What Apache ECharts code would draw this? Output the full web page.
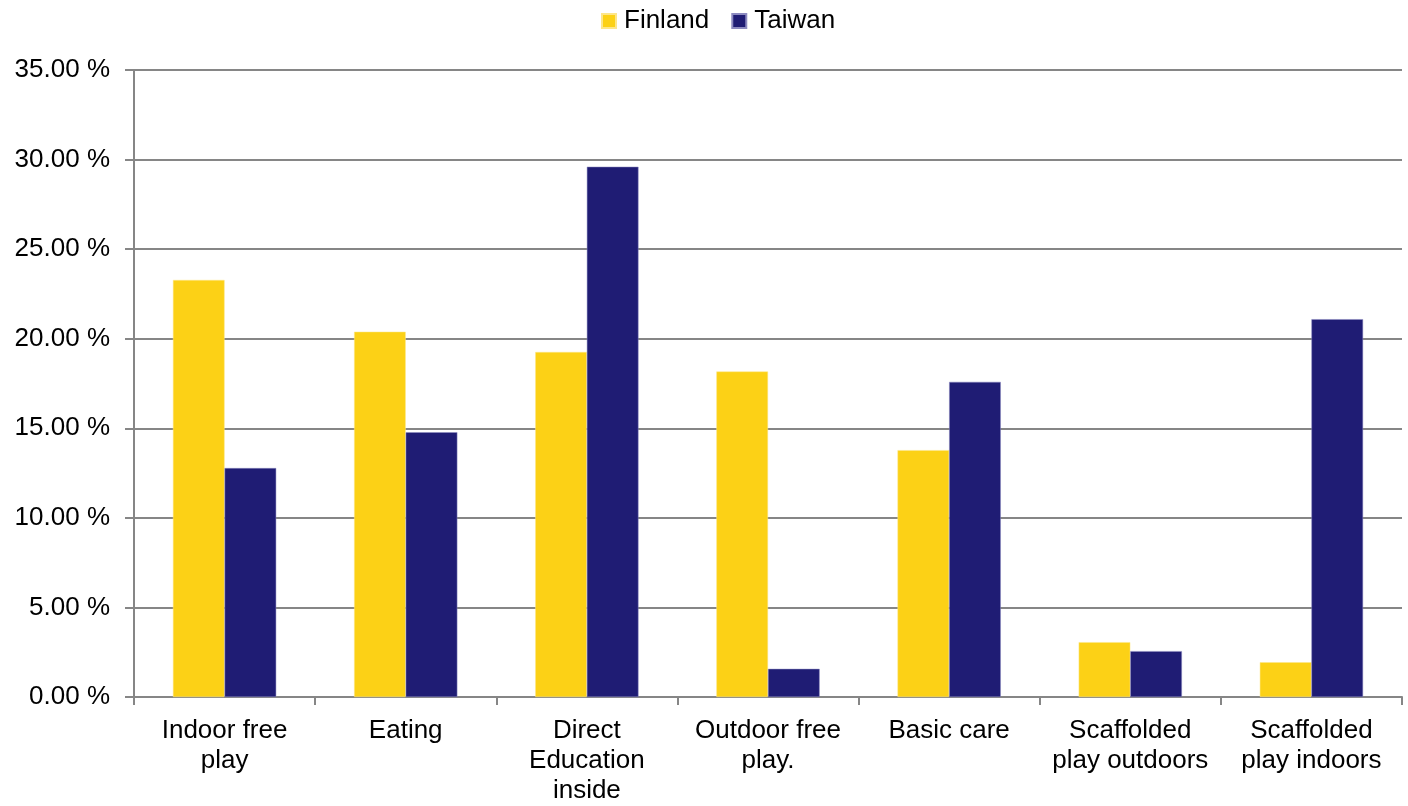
<!DOCTYPE html>
<html>
<head>
<meta charset="utf-8">
<script src="https://cdn.jsdelivr.net/npm/echarts@6/dist/echarts.min.js"></script>
<style>html,body{margin:0;padding:0;background:#fff;overflow:hidden;}#c{width:100vw;height:100vh;}</style>
</head>
<body>
<div id="c"></div>
<script>
const categories = ["Indoor free\nplay", "Eating", "Direct\nEducation\ninside", "Outdoor free\nplay.", "Basic care", "Scaffolded\nplay outdoors", "Scaffolded\nplay indoors"];
const finland = [23.28, 20.39, 19.26, 18.17, 13.78, 3.06, 1.94];
const taiwan = [12.78, 14.78, 29.6, 1.57, 17.59, 2.56, 21.09];
const seriesNames = ["Finland", "Taiwan"];
const yTicks = {min: 0, max: 35, interval: 5};

const chart = echarts.init(document.getElementById('c'));
const font = 'Liberation Sans, Arial, sans-serif';
chart.setOption({
  animation: false,
  textStyle: {fontFamily: font},
  legend: {
    top: 3, left: 596,
    itemWidth: 14, itemHeight: 14, itemGap: 22,
    icon: 'rect',
    textStyle: {fontSize: 26, color: '#000', fontFamily: font, padding: [0,0,0,3]},
    data: seriesNames
  },
  grid: {left: 134, right: 6, top: 70, bottom: 103, containLabel: false},
  xAxis: {
    type: 'category',
    data: categories,
    axisLine: {lineStyle: {color: '#868686', width: 2}},
    axisTick: {show: true, length: 8, lineStyle: {color: '#868686', width: 2}},
    axisLabel: {fontSize: 26, color: '#000', lineHeight: 30, margin: 19, interval: 0, fontFamily: font}
  },
  yAxis: {
    type: 'value',
    min: yTicks.min, max: yTicks.max, interval: yTicks.interval,
    axisLine: {show: true, lineStyle: {color: '#868686', width: 2}},
    axisTick: {show: true, length: 9, lineStyle: {color: '#868686', width: 2}},
    splitLine: {lineStyle: {color: '#868686', width: 2}},
    axisLabel: {fontSize: 26, color: '#000', margin: 24, fontFamily: font,
      formatter: v => v.toFixed(2) + ' %'}
  },
  series: [
    {name: seriesNames[0], type: 'bar', data: finland, barGap: '0%', barCategoryGap: '43%',
     itemStyle: {color: '#FCD116', borderColor: '#FDE68A', borderWidth: 0.5}},
    {name: seriesNames[1], type: 'bar', data: taiwan, barGap: '0%', barCategoryGap: '43%',
     itemStyle: {color: '#1F1C74', borderColor: '#8C8AC0', borderWidth: 0.5}}
  ]
});
</script>
</body>
</html>
